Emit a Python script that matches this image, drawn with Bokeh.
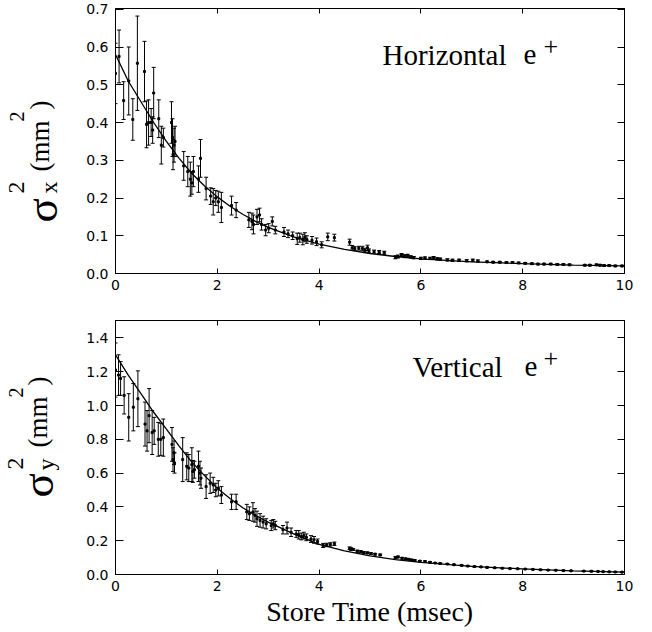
import math
from bokeh.plotting import figure
from bokeh.layouts import column, row
from bokeh.models import (Range1d, LinearAxis, FixedTicker, PrintfTickFormatter,
                          Whisker, TeeHead, ColumnDataSource, Label)
from bokeh.core.properties import value
from bokeh.embed import file_html
from bokeh.resources import INLINE

# ---------------- data ----------------
# Horizontal e+ : sigma_x^2 (mm^2) vs store time (msec)
t_h = [0.00, 0.07, 0.16, 0.26, 0.34, 0.43, 0.57, 0.61, 0.65, 0.70, 0.73, 0.75, 0.85, 0.90, 0.94,
       1.10, 1.12, 1.13, 1.15, 1.17, 1.34, 1.42, 1.47, 1.50, 1.53, 1.63, 1.67, 1.78, 1.87, 1.92,
       1.97, 2.02, 2.08, 2.28, 2.37, 2.62, 2.68, 2.71, 2.78, 2.83, 2.87, 2.95, 3.01, 3.08, 3.14,
       3.31, 3.39, 3.48, 3.57, 3.62, 3.68, 3.72, 3.76, 3.86, 3.95, 4.05, 4.17, 4.30, 4.60, 4.65,
       4.70, 4.78, 4.85, 4.90, 4.95, 4.98, 5.08, 5.18, 5.28, 5.50, 5.55, 5.62, 5.68, 5.74, 5.80,
       5.86, 6.00, 6.08, 6.18, 6.25, 6.32, 6.38, 6.52, 6.62, 6.75, 6.90, 7.02, 7.12, 7.30, 7.42,
       7.55, 7.68, 7.80, 7.92, 8.05, 8.18, 8.30, 8.42, 8.55, 8.68, 8.80, 8.92, 9.22, 9.32, 9.45,
       9.52, 9.60, 9.70, 9.82, 9.95]
sig_h = [0.530, 0.575, 0.458, 0.510, 0.408, 0.557, 0.535, 0.395, 0.400, 0.400, 0.380, 0.478, 0.410, 0.340, 0.360,
         0.400, 0.360, 0.315, 0.340, 0.350, 0.285, 0.270, 0.250, 0.240, 0.270, 0.250, 0.305, 0.225, 0.205, 0.190,
         0.200, 0.190, 0.175, 0.180, 0.168, 0.142, 0.138, 0.130, 0.150, 0.155, 0.130, 0.115, 0.120, 0.138, 0.115,
         0.110, 0.105, 0.100, 0.092, 0.095, 0.090, 0.096, 0.090, 0.088, 0.084, 0.076, 0.097, 0.095, 0.083, 0.068,
         0.066, 0.067, 0.066, 0.062, 0.068, 0.060, 0.058, 0.057, 0.055, 0.043, 0.045, 0.049, 0.046, 0.047, 0.044,
         0.042, 0.040, 0.041, 0.040, 0.042, 0.039, 0.038, 0.036, 0.035, 0.035, 0.034, 0.035, 0.033, 0.031, 0.030,
         0.030, 0.029, 0.029, 0.028, 0.027, 0.026, 0.025, 0.025, 0.025, 0.024, 0.024, 0.023, 0.022, 0.022, 0.023,
         0.022, 0.021, 0.021, 0.020, 0.020]
err_h = [0.080, 0.070, 0.050, 0.090, 0.055, 0.125, 0.080, 0.062, 0.060, 0.037, 0.035, 0.068, 0.050, 0.050, 0.025,
         0.055, 0.050, 0.040, 0.045, 0.040, 0.038, 0.040, 0.045, 0.030, 0.040, 0.035, 0.050, 0.030, 0.022, 0.035,
         0.020, 0.028, 0.040, 0.025, 0.020, 0.020, 0.022, 0.025, 0.020, 0.018, 0.015, 0.015, 0.012, 0.012, 0.010,
         0.012, 0.010, 0.010, 0.015, 0.012, 0.014, 0.012, 0.010, 0.010, 0.010, 0.008, 0.010, 0.009, 0.008, 0.006,
         0.005, 0.005, 0.006, 0.005, 0.007, 0.005, 0.004, 0.004, 0.004, 0.004, 0.004, 0.004, 0.004, 0.004, 0.003,
         0.003, 0.003, 0.003, 0.003, 0.003, 0.003, 0.003, 0.003, 0.003, 0.003, 0.003, 0.003, 0.003, 0.002, 0.002,
         0.002, 0.002, 0.002, 0.002, 0.002, 0.002, 0.002, 0.002, 0.002, 0.002, 0.002, 0.002, 0.002, 0.002, 0.002,
         0.002, 0.002, 0.002, 0.002, 0.002]

# Fitted curve, read at sample times
fit_t_h = [0, 0.25, 0.5, 0.75, 1.0, 1.25, 1.5, 1.75, 2.0, 2.25, 2.5, 2.75, 3.0, 3.5, 4.0, 4.5, 5.0,
           5.5, 6.0, 7.0, 8.0, 9.0, 10.0]
fit_h = [0.580, 0.510, 0.455, 0.400, 0.350, 0.305, 0.265, 0.232, 0.203, 0.178, 0.157, 0.138, 0.122,
         0.097, 0.078, 0.064, 0.053, 0.045, 0.039, 0.031, 0.026, 0.022, 0.020]

# Vertical e+ : sigma_y^2 (mm^2) vs store time (msec)
t_v = [0.00, 0.06, 0.10, 0.17, 0.26, 0.35, 0.44, 0.58, 0.62, 0.66, 0.72, 0.76, 0.84, 0.89, 0.94,
       1.11, 1.13, 1.15, 1.16, 1.32, 1.40, 1.44, 1.50, 1.52, 1.55, 1.63, 1.66, 1.68, 1.78, 1.86,
       1.92, 1.97, 2.02, 2.08, 2.28, 2.37, 2.58, 2.63, 2.70, 2.74, 2.78, 2.84, 2.90, 2.96, 3.06,
       3.10, 3.14, 3.29, 3.37, 3.45, 3.55, 3.60, 3.65, 3.70, 3.75, 3.84, 3.90, 3.97, 4.08, 4.15,
       4.22, 4.30, 4.60, 4.63, 4.67, 4.75, 4.82, 4.88, 4.95, 5.02, 5.10, 5.20, 5.50, 5.55, 5.63,
       5.70, 5.76, 5.82, 5.88, 5.98, 6.08, 6.18, 6.28, 6.38, 6.52, 6.65, 6.80, 6.92, 7.05, 7.18,
       7.30, 7.45, 7.60, 7.75, 7.90, 8.05, 8.20, 8.35, 8.50, 8.65, 8.80, 8.95, 9.20, 9.35, 9.48,
       9.58, 9.70, 9.82, 9.95]
sig_v = [1.210, 1.180, 1.160, 1.060, 0.930, 0.990, 1.040, 0.890, 0.850, 0.940, 0.840, 0.850, 0.800, 0.800, 0.810,
         0.770, 0.680, 0.720, 0.660, 0.680, 0.640, 0.630, 0.650, 0.610, 0.620, 0.640, 0.600, 0.570, 0.520, 0.540,
         0.530, 0.500, 0.510, 0.470, 0.430, 0.430, 0.370, 0.360, 0.370, 0.350, 0.330, 0.320, 0.310, 0.300, 0.290,
         0.300, 0.290, 0.265, 0.275, 0.250, 0.240, 0.235, 0.225, 0.230, 0.220, 0.210, 0.205, 0.195, 0.172, 0.175,
         0.178, 0.182, 0.155, 0.150, 0.148, 0.138, 0.135, 0.130, 0.128, 0.124, 0.120, 0.116, 0.100, 0.104, 0.096,
         0.093, 0.090, 0.086, 0.083, 0.079, 0.077, 0.072, 0.068, 0.065, 0.062, 0.058, 0.054, 0.050, 0.047, 0.045,
         0.042, 0.040, 0.037, 0.035, 0.034, 0.032, 0.030, 0.028, 0.026, 0.025, 0.023, 0.022, 0.020, 0.019, 0.018,
         0.017, 0.016, 0.015, 0.014]
err_v = [0.160, 0.120, 0.100, 0.110, 0.140, 0.140, 0.165, 0.130, 0.120, 0.160, 0.130, 0.080, 0.100, 0.095, 0.110,
         0.100, 0.070, 0.070, 0.060, 0.130, 0.080, 0.080, 0.100, 0.065, 0.050, 0.090, 0.070, 0.060, 0.070, 0.060,
         0.045, 0.040, 0.045, 0.050, 0.045, 0.045, 0.045, 0.040, 0.055, 0.040, 0.045, 0.040, 0.035, 0.030, 0.030,
         0.025, 0.025, 0.025, 0.035, 0.025, 0.020, 0.025, 0.020, 0.020, 0.020, 0.020, 0.020, 0.015, 0.012, 0.010,
         0.010, 0.010, 0.008, 0.008, 0.006, 0.006, 0.006, 0.005, 0.005, 0.005, 0.005, 0.005, 0.006, 0.005, 0.005,
         0.004, 0.004, 0.004, 0.004, 0.004, 0.004, 0.004, 0.003, 0.003, 0.003, 0.003, 0.003, 0.003, 0.003, 0.003,
         0.003, 0.002, 0.002, 0.002, 0.002, 0.002, 0.002, 0.002, 0.002, 0.002, 0.002, 0.002, 0.002, 0.002, 0.002,
         0.002, 0.002, 0.002, 0.002]

fit_t_v = [0, 0.25, 0.5, 0.75, 1.0, 1.25, 1.5, 1.75, 2.0, 2.25, 2.5, 2.75, 3.0, 3.5, 4.0, 4.5, 5.0,
           5.5, 6.0, 7.0, 8.0, 9.0, 10.0]
fit_v = [1.300, 1.180, 1.070, 0.960, 0.860, 0.760, 0.665, 0.585, 0.510, 0.450, 0.395, 0.350, 0.310,
         0.240, 0.178, 0.140, 0.110, 0.088, 0.072, 0.048, 0.033, 0.022, 0.014]

x_ticks = [0, 2, 4, 6, 8, 10]
y_ticks_h = [0.0, 0.1, 0.2, 0.3, 0.4, 0.5, 0.6, 0.7]
y_ticks_v = [0.0, 0.2, 0.4, 0.6, 0.8, 1.0, 1.2, 1.4]

# ---------------- styling / layout ----------------
SERIF = "Liberation Serif"
SANS = "DejaVu Sans"
W = 652
LW = 75                 # width of the strip holding the y titles
BL, BR = 115, 28        # page x of frame left, right margin
FRAME_W = W - BL - BR


def style_axis(ax, tick_in, labels=True, fmt=None, standoff=6):
    ax.major_tick_in = tick_in
    ax.major_tick_out = 0
    ax.minor_tick_in = 0
    ax.minor_tick_out = 0
    ax.minor_tick_line_color = None
    ax.axis_line_color = "black"
    ax.major_tick_line_color = "black"
    ax.axis_line_width = 1
    if labels:
        ax.major_label_text_font = SANS
        ax.major_label_text_font_size = "14px"
        ax.major_label_text_color = "black"
        ax.major_label_standoff = standoff
        if fmt:
            ax.formatter = PrintfTickFormatter(format=fmt)
    else:
        ax.major_label_text_font_size = "0px"
        ax.major_label_standoff = 0
        ax.major_label_text_alpha = 0


def make_panel(height, top, bottom, ymax, yticks, t, s, e, ft, fv):
    p = figure(width=W - LW, height=height, x_range=Range1d(0, 10), y_range=Range1d(0, ymax),
               output_backend="svg", toolbar_location=None,
               min_border_left=BL - LW, min_border_right=BR,
               min_border_top=top, min_border_bottom=bottom)
    p.grid.visible = False
    p.outline_line_color = "black"
    p.outline_line_width = 1

    xa = p.below[0]
    xa.ticker = FixedTicker(ticks=x_ticks)
    style_axis(xa, 5, True, "%d", 6)
    ya = p.left[0]
    ya.ticker = FixedTicker(ticks=yticks)
    style_axis(ya, 8, True, "%.1f", 7)

    top_ax = LinearAxis(ticker=FixedTicker(ticks=x_ticks))
    style_axis(top_ax, 5, False)
    p.add_layout(top_ax, "above")
    right_ax = LinearAxis(ticker=FixedTicker(ticks=yticks))
    style_axis(right_ax, 7, False)
    p.add_layout(right_ax, "right")

    src = ColumnDataSource(dict(x=t, y=s,
                                lower=[a - b for a, b in zip(s, e)],
                                upper=[a + b for a, b in zip(s, e)]))
    wk = Whisker(base="x", lower="lower", upper="upper", source=src, dimension="height",
                 line_color="black", line_width=1,
                 upper_head=TeeHead(size=4, line_color="black", line_width=1),
                 lower_head=TeeHead(size=4, line_color="black", line_width=1))
    p.add_layout(wk)
    p.scatter("x", "y", source=src, marker="square", size=2, color="black")
    p.line(ft, fv, line_color="black", line_width=1.3)
    return p, xa


class Panel:
    def __init__(self, page_top, height, top, bottom, ymax):
        self.page_top = page_top
        self.height = height
        self.top = top
        self.bottom = bottom
        self.ymax = ymax
        self.frame_h = height - top - bottom

    def ydata(self, sy):
        # page pixel row -> data value, for a frame spanning [page_top+top, page_top+top+frame_h]
        fb = self.page_top + self.top + self.frame_h
        return (fb - sy) / self.frame_h * self.ymax


def title_strip(pn):
    """bare figure whose frame spans the same rows and data range as its panel"""
    q = figure(width=LW, height=pn.height, x_range=Range1d(0, LW), y_range=Range1d(0, pn.ymax),
               output_backend="svg", toolbar_location=None, x_axis_type=None, y_axis_type=None,
               min_border_left=0, min_border_right=0,
               min_border_top=pn.top, min_border_bottom=pn.bottom)
    q.grid.visible = False
    q.outline_line_color = None
    return q


R = math.pi / 2
DX = -14   # measured offset of rotated glyph text relative to its anchor


def vtext(q, pn, sx, sy, text, size):
    q.text(x=[sx + DX], y=[pn.ydata(sy)], text=[text], angle=R,
           text_font=value(SERIF), text_font_size=value(size), text_color="black",
           text_align="left", text_baseline="alphabetic")


def flat_label(p, pn, sx, sy, text, size, align="left"):
    x = (sx - BL) / FRAME_W * 10.0
    p.add_layout(Label(x=x, y=pn.ydata(sy), text=text, text_font=SERIF, text_font_size=size,
                       text_color="black", text_align=align, text_baseline="alphabetic"))


# top panel: page rows 0..300, frame 8..273
P1 = Panel(0, 300, 8, 27, 0.702)
p1, xa1 = make_panel(P1.height, P1.top, P1.bottom, P1.ymax, y_ticks_h, t_h, sig_h, err_h, fit_t_h, fit_h)
flat_label(p1, P1, 444, 54, "Horizontal", "29px", align="center")
flat_label(p1, P1, 523, 54, "e", "29px")
flat_label(p1, P1, 543, 46, "+", "26px")

q1 = title_strip(P1)
vtext(q1, P1, 55, 222, "σ", "45px")
vtext(q1, P1, 62, 193, "x", "24px")
vtext(q1, P1, 30, 193, "2", "24px")
vtext(q1, P1, 53, 171, "(mm", "27px")
vtext(q1, P1, 30, 121, "2", "20px")
vtext(q1, P1, 53, 109, ")", "27px")

# bottom panel: page rows 300..632, frame 320..574
P2 = Panel(300, 332, 20, 58, 1.503)
p2, xa2 = make_panel(P2.height, P2.top, P2.bottom, P2.ymax, y_ticks_v, t_v, sig_v, err_v, fit_t_v, fit_v)
xa2.axis_label = "Store Time (msec)"
xa2.axis_label_text_font = SERIF
xa2.axis_label_text_font_size = "28px"
xa2.axis_label_text_font_style = "normal"
xa2.axis_label_text_color = "black"
xa2.axis_label_standoff = 2
flat_label(p2, P2, 457, 366, "Vertical", "29px", align="center")
flat_label(p2, P2, 524, 366, "e", "29px")
flat_label(p2, P2, 543, 358, "+", "26px")

q2 = title_strip(P2)
vtext(q2, P2, 51, 497, "σ", "45px")
vtext(q2, P2, 59, 470, "y", "24px")
vtext(q2, P2, 29, 469, "2", "24px")
vtext(q2, P2, 51, 447, "(mm", "27px")
vtext(q2, P2, 29, 397, "2", "20px")
vtext(q2, P2, 51, 385, ")", "27px")

layout = column(row(q1, p1, spacing=0), row(q2, p2, spacing=0), spacing=0)
open("out.html", "w").write(file_html(layout, INLINE))
